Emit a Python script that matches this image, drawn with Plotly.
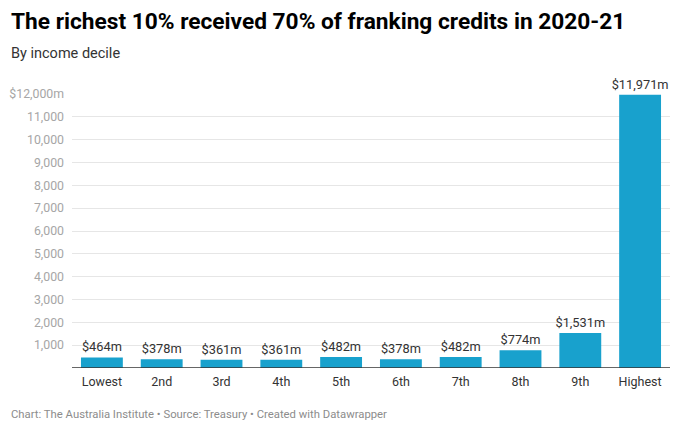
import plotly.graph_objects as go

categories = ["Lowest", "2nd", "3rd", "4th", "5th", "6th", "7th", "8th", "9th", "Highest"]
values = [464, 378, 361, 361, 482, 378, 482, 774, 1531, 11971]
value_labels = ["$464m", "$378m", "$361m", "$361m", "$482m", "$378m", "$482m", "$774m", "$1,531m", "$11,971m"]
tick_values = [1000, 2000, 3000, 4000, 5000, 6000, 7000, 8000, 9000, 10000, 11000, 12000]
tick_labels = ["1,000", "2,000", "3,000", "4,000", "5,000", "6,000", "7,000", "8,000", "9,000", "10,000", "11,000", "$12,000m"]

FONT = "Roboto"

fig = go.Figure(go.Bar(
    x=categories, y=values, text=value_labels, textposition="outside",
    constraintext="none",
    textfont=dict(family=FONT, size=12.8, color="#333333"),
    marker=dict(color="#18a1cd", line=dict(width=0)),
    cliponaxis=False, hoverinfo="skip",
))

W, H = 680, 433
ml, mr, mt, mb = 72, 10, 94, 65
pw, ph = W - ml - mr, H - mt - mb

fig.update_layout(
    width=W, height=H,
    margin=dict(l=ml, r=mr, t=mt, b=mb),
    paper_bgcolor="white", plot_bgcolor="white",
    bargap=0.3,
    showlegend=False,
    font=dict(family=FONT),
    xaxis=dict(showgrid=False, showline=False, ticks="", automargin=False,
               tickfont=dict(family=FONT, size=12.5, color="#333333"), ticklabelstandoff=4),
    yaxis=dict(range=[0, 12000], tickvals=tick_values, ticktext=tick_labels, automargin=False,
               showgrid=True, gridcolor="#e6e6e6", gridwidth=1, zeroline=False,
               tickfont=dict(family=FONT, size=12.3, color="#a6a6a6"), ticks="",
               ticklabelstandoff=7),
    shapes=[dict(type="line", xref="paper", yref="y", x0=0, x1=1, y0=0, y1=0,
                 line=dict(color="#333333", width=1.5))],
)

def px_ann(text, x, y, size, color):
    fig.add_annotation(text=text, xref="paper", yref="paper",
                       x=(x - ml) / pw, y=1 - (y - mt) / ph,
                       showarrow=False, xanchor="left", yanchor="middle",
                       font=dict(family=FONT, size=size, color=color))

px_ann("<b>The richest 10% received 70% of franking credits in 2020-21</b>", 9, 22, 22.7, "#000000")
px_ann("By income decile", 9, 54, 14.5, "#333333")
px_ann("Chart: The Australia Institute • Source: Treasury • Created with Datawrapper", 9, 414, 11.3, "#8c8c8c")

fig.write_html("out.html", config={"displayModeBar": False},
               post_script="document.body.style.margin='0';document.body.style.padding='0';")
